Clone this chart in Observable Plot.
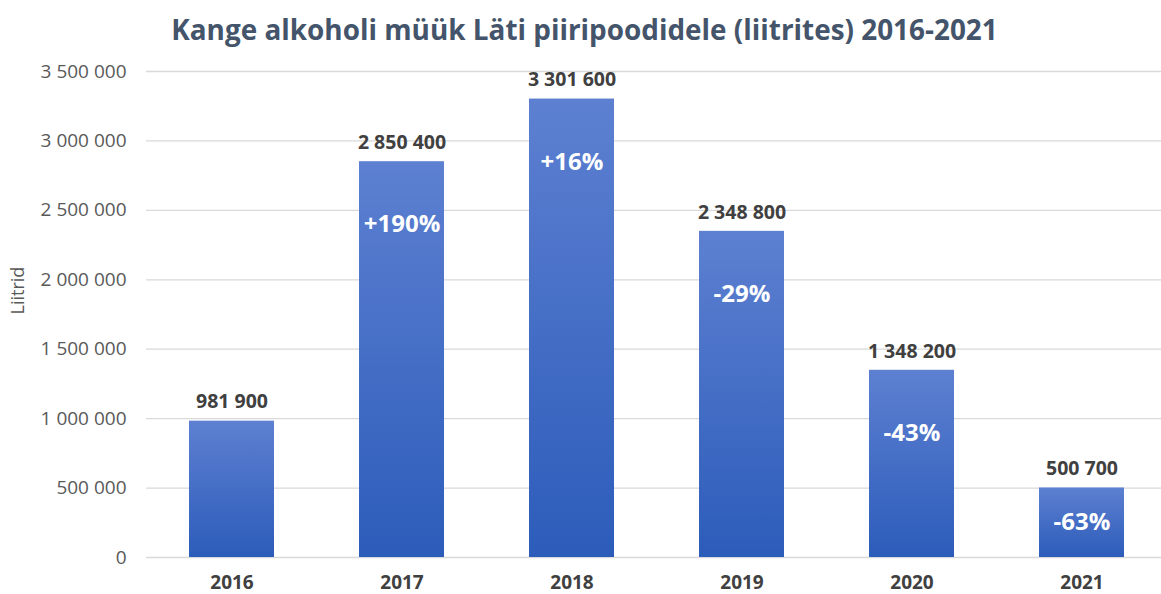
<!DOCTYPE html>
<html>
<head>
<meta charset="utf-8">
<script src="https://cdn.jsdelivr.net/npm/d3@7"></script>
<script src="https://cdn.jsdelivr.net/npm/@observablehq/plot@0.6"></script>
<style>
  html, body { margin: 0; padding: 0; background: #fff; }
  #title { height: 55px; box-sizing: border-box; padding-top: 10px; text-align: center; font-family: "Open Sans", sans-serif; font-weight: 700; font-size: 27.9px; color: #44546a; line-height: 38px; padding-left: 8px; white-space: nowrap; }
  #chart svg { display: block; }
</style>
</head>
<body>
<div id="title">Kange alkoholi müük Läti piiripoodidele (liitrites) 2016-2021</div>
<div id="chart"></div>
<script>
const years = ["2016", "2017", "2018", "2019", "2020", "2021"];
const liters = [981900, 2850400, 3301600, 2348800, 1348200, 500700];
const changes = ["", "+190%", "+16%", "-29%", "-43%", "-63%"];
const yTicks = [0, 500000, 1000000, 1500000, 2000000, 2500000, 3000000, 3500000];
const yLabel = "Liitrid";

const data = years.map((y, i) => ({year: y, value: liters[i], change: changes[i]}));
const loc = d3.formatLocale({thousands: " ", grouping: [3], decimal: ",", currency: ["", " €"]});
const fmt = loc.format(",d");

const W = 1161, H = 539;
const mTop = 16, mBottom = 37, mLeft = 146;
const yMax = 3500000;
const pxPerUnit = (H - mTop - mBottom) / yMax;
const pctY = d => Math.max(d.value - 63 / pxPerUnit, d.value / 2);

const chart = Plot.plot({
  width: W,
  height: H,
  marginTop: mTop,
  marginBottom: mBottom,
  marginLeft: mLeft,
  marginRight: 0,
  style: {fontFamily: "'Open Sans', sans-serif", background: "#fff", overflow: "visible"},
  x: {domain: years, range: [mLeft, mLeft + 1020], paddingInner: 0.5, paddingOuter: 0.25, label: null},
  y: {domain: [0, yMax], ticks: yTicks, label: null},
  marks: [
    Plot.ruleY(yTicks, {stroke: "#d9d9d9", strokeWidth: 1.3}),
    Plot.axisY({ticks: yTicks, tickSize: 0, tickPadding: 20, tickFormat: fmt, fontSize: 19, fill: "#595959", label: null}),
    Plot.axisX({tickSize: 0, tickPadding: 18, fontSize: 19, fontWeight: 700, fill: "#404040", label: null}),
    Plot.barY(data, {x: "year", y: "value", fill: "url(#barGrad)"}),
    Plot.text(data, {x: "year", y: "value", text: d => fmt(d.value), dy: -19, fontSize: 19.5, fontWeight: 700, fill: "#404040"}),
    Plot.text(data.filter(d => d.change), {x: "year", y: pctY, text: "change", fontSize: 24, fontWeight: 700, fill: "#ffffff"}),
    Plot.text([yLabel], {frameAnchor: "left", dx: -128, rotate: -90, text: d => d, fontSize: 18, fill: "#595959"})
  ]
});

const ns = "http://www.w3.org/2000/svg";
const defs = document.createElementNS(ns, "defs");
const grad = document.createElementNS(ns, "linearGradient");
grad.setAttribute("id", "barGrad");
grad.setAttribute("x1", "0"); grad.setAttribute("y1", "0");
grad.setAttribute("x2", "0"); grad.setAttribute("y2", "1");
[["0%", "#5d80d1"], ["100%", "#2c5cba"]].forEach(([o, c]) => {
  const s = document.createElementNS(ns, "stop");
  s.setAttribute("offset", o); s.setAttribute("stop-color", c);
  grad.appendChild(s);
});
defs.appendChild(grad);
chart.insertBefore(defs, chart.firstChild);
document.getElementById("chart").appendChild(chart);
</script>
</body>
</html>
